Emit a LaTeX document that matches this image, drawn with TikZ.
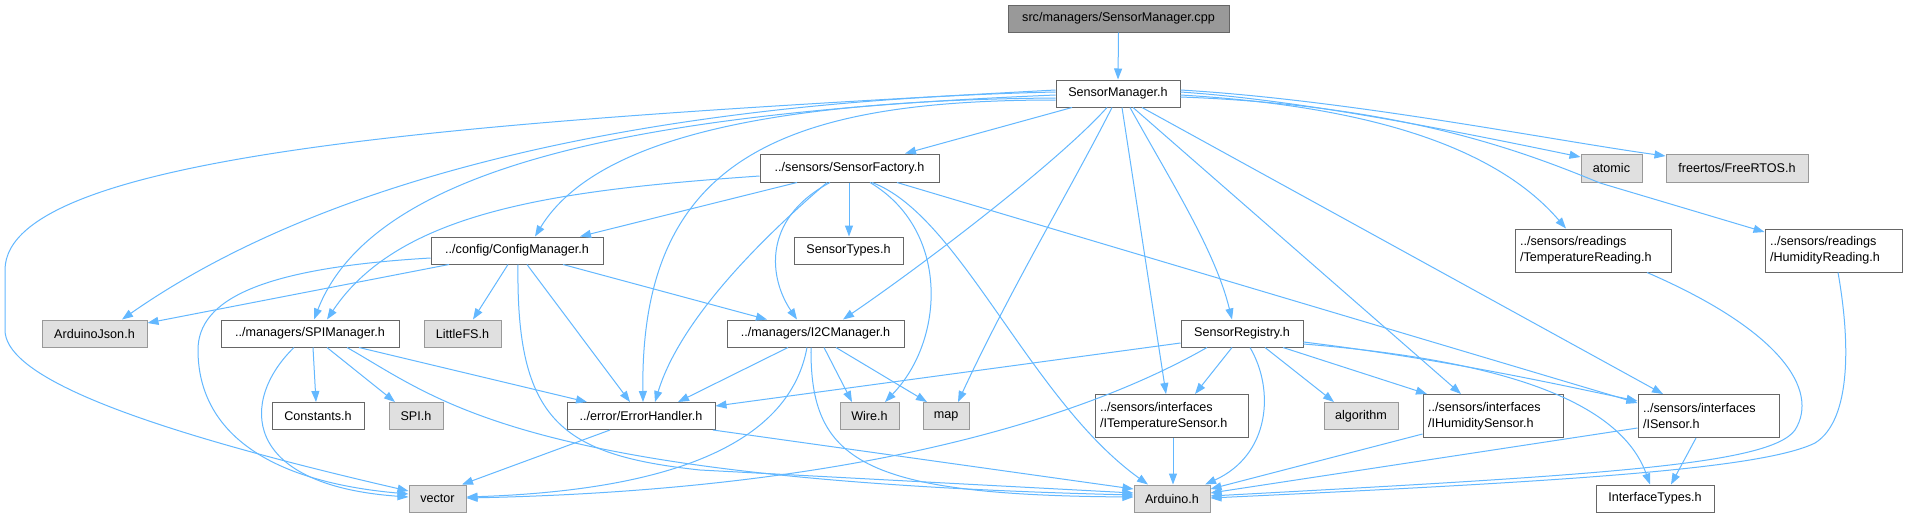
\documentclass[tikz,border=0pt]{standalone}
\usepackage{fontspec}
\usetikzlibrary{arrows.meta}
\newfontfamily\nodefont{Liberation Sans}
\definecolor{edgec}{HTML}{63B8FF}
\definecolor{boxborder}{HTML}{666666}
\definecolor{extborder}{HTML}{999999}
\definecolor{extfill}{HTML}{E0E0E0}
\definecolor{rootfill}{HTML}{999999}
\tikzset{
  box/.style={draw=boxborder, fill=white, line width=1pt, inner sep=0pt,
    minimum height=27pt, font={\nodefont\fontsize{12.6}{16}\selectfont}},
  ext/.style={box, draw=extborder, fill=extfill},
  box2/.style={box, minimum height=43pt, inner xsep=5pt, align=left},
  dep/.style={draw=edgec, line width=1pt, -{Triangle[length=11pt,width=8pt]}},
}
\begin{document}
\begin{tikzpicture}[x=1pt,y=-1pt]
\useasboundingbox (0,0) rectangle (1907,517);
\fill[white] (0,0) rectangle (1907,517);
% nodes
\node[box, fill=rootfill, minimum width=221pt] (root) at (1118.5,18.5) {src/managers/SensorManager.cpp};
\node[box, minimum width=124pt] (sm) at (1118,93.5) {SensorManager.h};
\node[box, minimum width=179pt, minimum height=28pt] (sf) at (849.5,168) {../sensors/SensorFactory.h};
\node[box, minimum width=109pt] (st) at (848.5,250.5) {SensorTypes.h};
\node[box, minimum width=172pt] (cm) at (517,250.5) {../config/ConfigManager.h};
\node[ext, minimum width=61pt, minimum height=28pt] (atomic) at (1611.5,168) {atomic};
\node[ext, minimum width=142pt, minimum height=28pt] (rtos) at (1737,168) {freertos/FreeRTOS.h};
\node[box2, text width=146pt] (tr) at (1593,250.5) {../sensors/readings\\/TemperatureReading.h};
\node[box2, text width=127pt] (hr) at (1833.5,250.5) {../sensors/readings\\/HumidityReading.h};
\node[ext, minimum width=105pt] (aj) at (94.5,333.5) {ArduinoJson.h};
\node[box, minimum width=178pt] (spi) at (310,333.5) {../managers/SPIManager.h};
\node[ext, minimum width=77pt] (lfs) at (462.5,333.5) {LittleFS.h};
\node[box, minimum width=177pt] (i2c) at (815.5,333.5) {../managers/I2CManager.h};
\node[box, minimum width=122pt] (sr) at (1242,333.5) {SensorRegistry.h};
\node[box, minimum width=92pt] (cons) at (318,416) {Constants.h};
\node[ext, minimum width=54pt] (spih) at (416,416) {SPI.h};
\node[box, minimum width=148pt] (eh) at (641,416) {../error/ErrorHandler.h};
\node[ext, minimum width=59pt] (wire) at (869.5,416) {Wire.h};
\node[ext, minimum width=46pt] (map) at (946,416) {map};
\node[box2, text width=143pt] (its) at (1171.5,416) {../sensors/interfaces\\/ITemperatureSensor.h};
\node[ext, minimum width=74pt] (alg) at (1361,416) {algorithm};
\node[box2, text width=130pt] (ihs) at (1493,416) {../sensors/interfaces\\/IHumiditySensor.h};
\node[box2, text width=131pt] (is) at (1708.5,416) {../sensors/interfaces\\/ISensor.h};
\node[ext, minimum width=57pt] (vec) at (437.5,498.5) {vector};
\node[ext, minimum width=76pt] (ard) at (1172,498.5) {Arduino.h};
\node[box, minimum width=118pt] (it) at (1655,498.5) {InterfaceTypes.h};
% root
\draw[dep] (root.south) -- (sm.north);
% SensorManager.h
\draw[dep] (sm.south -| 1072,0) -- (sf.north -| 905,0);
\draw[dep] (sm.west |- 0,98) .. controls (800,100) and (600,130) .. (cm.north -| 535,0);
\draw[dep] (sm.west |- 0,90) .. controls (500,120) and (5,150) .. (5,270) -- (5,330)
   .. controls (5,370) and (100,420) .. (vec.west |- 0,491);
\draw[dep] (sm.west |- 0,92) .. controls (700,100) and (350,160) .. (aj.north -| 122,0);
\draw[dep] (sm.west |- 0,95) .. controls (700,110) and (380,150) .. (spi.north -| 314,0);
\draw[dep] (sm.west |- 0,100) .. controls (780,100) and (640,160) .. (eh.north -| 643,0);
\draw[dep] (sm.south -| 1107,0) .. controls (1060,160) and (930,260) .. (i2c.north -| 843,0);
\draw[dep] (sm.south -| 1112,0) .. controls (1070,190) and (1010,290) .. (map.north -| 958,0);
\draw[dep] (sm.south -| 1122,0) -- (its.north -| 1166,0);
\draw[dep] (sm.south -| 1130,0) .. controls (1170,180) and (1215,250) .. (sr.north -| 1232,0);
\draw[dep] (sm.south -| 1133,0) -- (ihs.north -| 1461,0);
\draw[dep] (sm.south -| 1142,0) -- (is.north -| 1663,0);
\draw[dep] (sm.east |- 0,95) .. controls (1350,105) and (1490,140) .. (tr.north -| 1566,0);
\draw[dep] (sm.east |- 0,97) .. controls (1400,105) and (1520,150) .. (1600,183) -- (hr.west |- 0,232);
\draw[dep] (sm.east |- 0,92) .. controls (1300,100) and (1450,130) .. (atomic.west |- 0,157);
\draw[dep] (sm.east |- 0,90) .. controls (1350,100) and (1550,140) .. (rtos.west |- 0,156);
% SensorFactory.h
\draw[dep] (sf.south -| 849,0) -- (st.north -| 849,0);
\draw[dep] (sf.south -| 797,0) -- (cm.north -| 580,0);
\draw[dep] (sf.west |- 0,176) .. controls (560,190) and (400,210) .. (spi.north -| 327,0);
\draw[dep] (sf.south -| 827,0) .. controls (760,240) and (680,320) .. (eh.north -| 655,0);
\draw[dep] (sf.south -| 830,0) .. controls (760,220) and (770,280) .. (i2c.north -| 797,0);
\draw[dep] (sf.south -| 870,0) .. controls (950,230) and (945,340) .. (wire.north -| 885,0);
\draw[dep] (sf.south -| 872,0) .. controls (960,215) and (1030,400) .. (ard.north -| 1148,0);
\draw[dep] (sf.south -| 897,0) -- (is.west |- 0,403);
% ConfigManager.h
\draw[dep] (cm.south -| 449,0) -- (aj.east |- 0,323);
\draw[dep] (cm.west |- 0,258) .. controls (260,268) and (198,300) .. (198,350)
   .. controls (198,420) and (250,480) .. (vec.west |- 0,494);
\draw[dep] (cm.south -| 508,0) -- (lfs.north -| 473,0);
\draw[dep] (cm.south -| 527,0) -- (eh.north -| 630,0);
\draw[dep] (cm.south -| 518,0) .. controls (516,420) and (560,455) .. (700,470) -- (ard.west |- 0,493);
\draw[dep] (cm.south -| 563,0) -- (i2c.north -| 767,0);
% SPIManager.h
\draw[dep] (spi.south -| 294,0) .. controls (240,400) and (240,485) .. (vec.west |- 0,497);
\draw[dep] (spi.south -| 313,0) -- (cons.north -| 316,0);
\draw[dep] (spi.south -| 327,0) -- (spih.north -| 395,0);
\draw[dep] (spi.south -| 359,0) -- (eh.north -| 587,0);
\draw[dep] (spi.south -| 347,0) .. controls (440,400) and (520,480) .. (ard.west |- 0,495);
% I2CManager.h
\draw[dep] (i2c.south -| 788,0) -- (eh.north -| 678,0);
\draw[dep] (i2c.south -| 807,0) .. controls (790,440) and (680,490) .. (vec.east |- 0,497);
\draw[dep] (i2c.south -| 811,0) .. controls (810,460) and (860,495) .. (ard.west |- 0,497);
\draw[dep] (i2c.south -| 824,0) -- (wire.north -| 852,0);
\draw[dep] (i2c.south -| 836,0) -- (map.north -| 927,0);
% ErrorHandler.h
\draw[dep] (eh.south -| 610,0) -- (vec.north -| 462,0);
\draw[dep] (eh.south -| 713,0) -- (ard.west |- 0,489);
% SensorRegistry.h
\draw[dep] (sr.west |- 0,343) -- (eh.east |- 0,406);
\draw[dep] (sr.south -| 1207,0) .. controls (1080,420) and (850,490) .. (vec.east |- 0,498);
\draw[dep] (sr.south -| 1232,0) -- (its.north -| 1195,0);
\draw[dep] (sr.south -| 1250,0) .. controls (1275,390) and (1270,455) .. (ard.north -| 1205,0);
\draw[dep] (sr.south -| 1265,0) -- (alg.north -| 1334,0);
\draw[dep] (sr.south -| 1283,0) -- (ihs.north -| 1427,0);
\draw[dep] (sr.east |- 0,342) .. controls (1450,360) and (1560,385) .. (is.west |- 0,401);
\draw[dep] (sr.east |- 0,344) .. controls (1500,360) and (1620,400) .. (it.north -| 1650,0);
% interfaces and readings
\draw[dep] (its.south -| 1173,0) -- (ard.north -| 1173,0);
\draw[dep] (ihs.west |- 0,434) -- (ard.east |- 0,489);
\draw[dep] (is.west |- 0,428) -- (ard.east |- 0,493);
\draw[dep] (is.south -| 1696,0) -- (it.north -| 1671,0);
\draw[dep] (tr.south -| 1647,0) .. controls (1780,330) and (1820,390) .. (1795,430)
   .. controls (1770,465) and (1600,475) .. (ard.east |- 0,496);
\draw[dep] (hr.south -| 1838,0) .. controls (1850,340) and (1852,420) .. (1815,443)
   .. controls (1760,470) and (1550,482) .. (ard.east |- 0,498);
\end{tikzpicture}
\end{document}
